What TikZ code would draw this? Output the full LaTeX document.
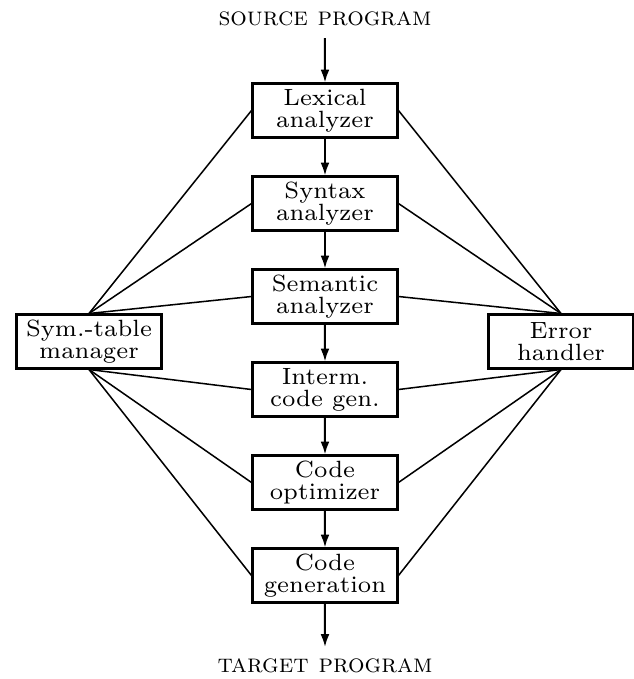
\documentclass[tikz,border=0pt]{standalone}
\usetikzlibrary{arrows.meta}

\tikzset{
  phase/.style={draw, line width=0.6pt, scale=0.84, transform shape,
    minimum width=43.15pt, minimum height=16.07pt,
    inner sep=0pt, align=center, font=\fontsize{7}{6.6}\selectfont},
  prog/.style={inner sep=0pt, font=\fontsize{6.5}{6.5}\selectfont\scshape},
  flow/.style={line width=0.5pt, -{Latex[length=3.2pt,width=2.2pt]}},
  link/.style={line width=0.38pt}
}

\begin{document}
\begin{tikzpicture}[x=0.25pt, y=-0.25pt]
  \useasboundingbox (0,0) rectangle (634,679);
  % input and output
  \node[prog] (src) at (325, 19) {source program};
  \node[prog] (tgt) at (325, 666) {target program};
  \coordinate (srcend) at (325, 38);
  \coordinate (tgtend) at (325, 647);
  % the six phases
  \node[phase] (lex) at (325, 110.5) {Lexical\\analyzer};
  \node[phase] (syn) at (325, 203.5) {Syntax\\analyzer};
  \node[phase] (sem) at (325, 296.5) {Semantic\\analyzer};
  \node[phase] (icg) at (325, 389.5) {Interm.\\code gen.};
  \node[phase] (opt) at (325, 482.5) {Code\\optimizer};
  \node[phase] (gen) at (325, 575.5) {Code\\generation};
  % side boxes
  \node[phase] (sym) at (89, 341.5) {Sym.-table\\manager};
  \node[phase] (err) at (561, 341.5) {Error\\handler};

  \draw[flow] (srcend) -- (lex);
  \draw[flow] (lex) -- (syn);
  \draw[flow] (syn) -- (sem);
  \draw[flow] (sem) -- (icg);
  \draw[flow] (icg) -- (opt);
  \draw[flow] (opt) -- (gen);
  \draw[flow] (gen) -- (tgtend);

  \foreach \p in {lex, syn, sem} {
    \draw[link] (sym.north) -- (\p.west);
    \draw[link] (err.north) -- (\p.east);
  }
  \foreach \p in {icg, opt, gen} {
    \draw[link] (sym.south) -- (\p.west);
    \draw[link] (err.south) -- (\p.east);
  }
\end{tikzpicture}
\end{document}
